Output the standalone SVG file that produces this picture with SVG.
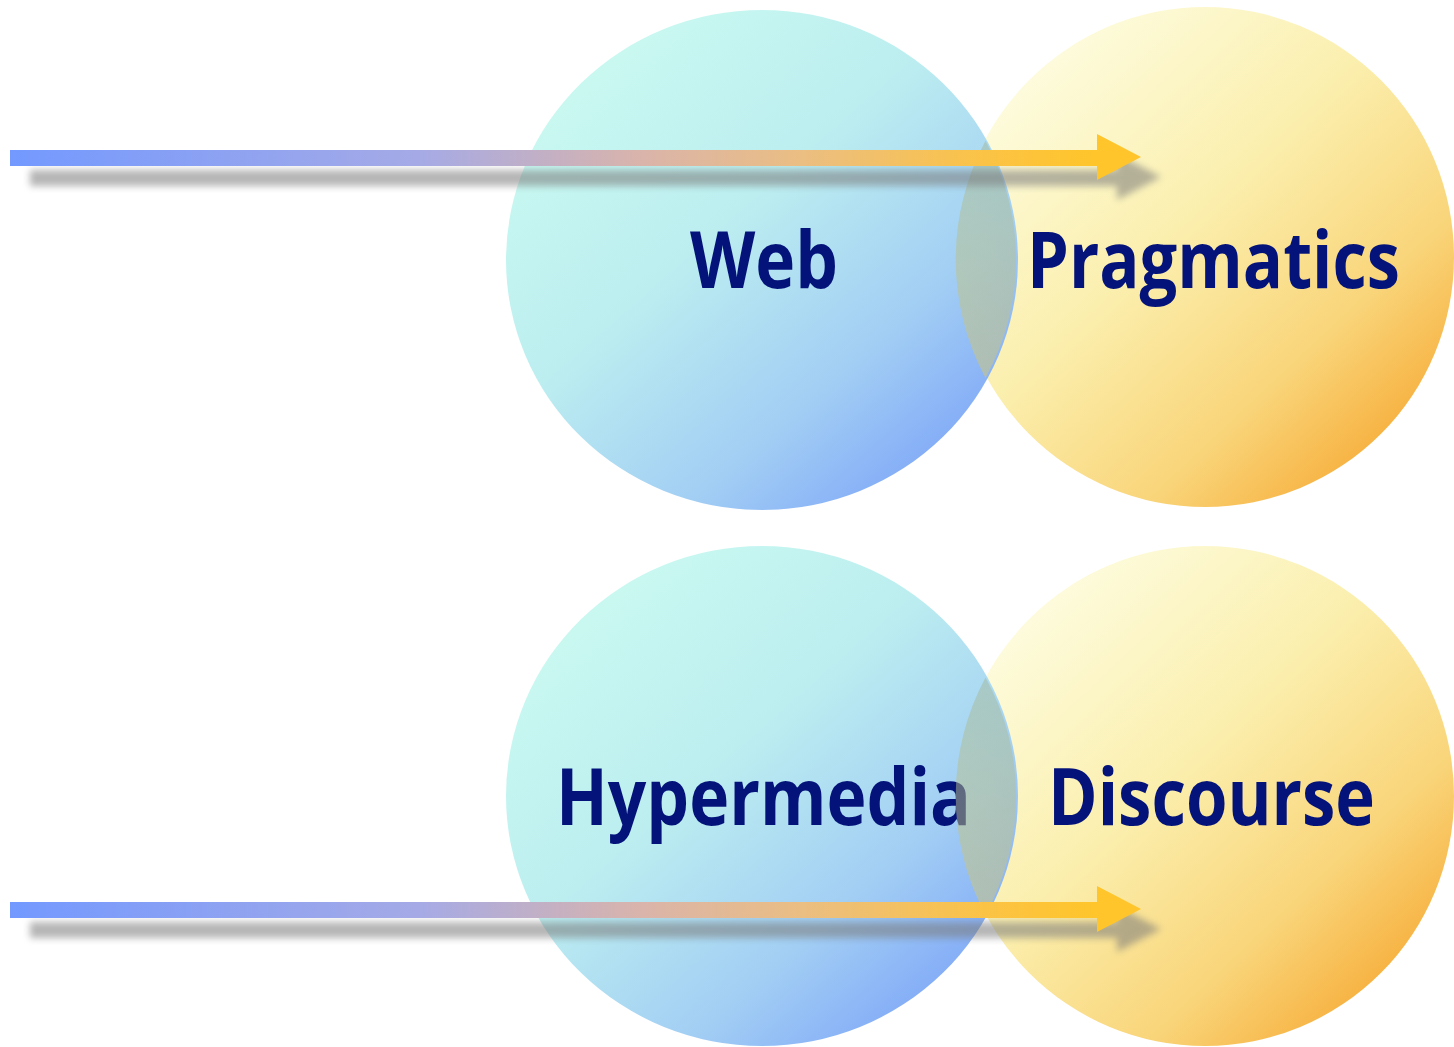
<svg xmlns="http://www.w3.org/2000/svg" width="1454" height="1047" viewBox="0 0 1454 1047">
  <defs>
    <linearGradient id="gBlue" x1="0.2" y1="0.12" x2="0.92" y2="0.92">
      <stop offset="0" stop-color="#c8f8f0"/>
      <stop offset="0.35" stop-color="#bceef0"/>
      <stop offset="0.7" stop-color="#a2cef4"/>
      <stop offset="1" stop-color="#7aa2f8"/>
    </linearGradient>
    <linearGradient id="gYellow" x1="0.15" y1="0.1" x2="0.92" y2="0.92">
      <stop offset="0" stop-color="#fdfcdf"/>
      <stop offset="0.4" stop-color="#fbefae"/>
      <stop offset="0.72" stop-color="#f9d57a"/>
      <stop offset="1" stop-color="#f6a62e"/>
    </linearGradient>
    <linearGradient id="gLens" x1="0" y1="0" x2="0" y2="1">
      <stop offset="0" stop-color="#a2b89c"/>
      <stop offset="1" stop-color="#d4c870"/>
    </linearGradient>
    <linearGradient id="gArrow" gradientUnits="userSpaceOnUse" x1="10" y1="0" x2="1142" y2="0">
      <stop offset="0" stop-color="#7399ff"/>
      <stop offset="0.36" stop-color="#a5aae6"/>
      <stop offset="0.56" stop-color="#dab4aa"/>
      <stop offset="0.7" stop-color="#ebbe82"/>
      <stop offset="0.86" stop-color="#fbc346"/>
      <stop offset="0.96" stop-color="#ffc52a"/>
    </linearGradient>
    <filter id="soft" x="-5%" y="-100%" width="110%" height="300%">
      <feGaussianBlur stdDeviation="3.5"/>
    </filter>
    <path id="arrowShape" d="M10 150 H1097 V134 L1141 157 L1097 180 V166 H10 Z"/>
  </defs>
  <style>
    .label { font-family: "Open Sans", "Noto Sans", "DejaVu Sans", sans-serif; font-weight: bold; font-size: 78px; fill: #04137a; }
    .lens { opacity: 0.5; fill: url(#gLens); }
    .shadow { fill: #7a7a7a; opacity: 0.55; }
  </style>

  <rect width="1454" height="1047" fill="#ffffff"/>

  <!-- yellow discs sit underneath the blue ones -->
  <g id="node-pragmatics">
    <ellipse cx="1205" cy="257" rx="249" ry="250" fill="url(#gYellow)"/>
    <text class="label" x="1027" y="288" textLength="373" lengthAdjust="spacingAndGlyphs">Pragmatics</text>
  </g>
  <g id="node-discourse">
    <ellipse cx="1205" cy="796" rx="249" ry="250" fill="url(#gYellow)"/>
    <text class="label" x="1048" y="825" textLength="327" lengthAdjust="spacingAndGlyphs">Discourse</text>
  </g>

  <g id="node-web">
    <ellipse cx="762" cy="260" rx="256" ry="250" fill="url(#gBlue)"/>
    <text class="label" x="690" y="288" textLength="148" lengthAdjust="spacingAndGlyphs">Web</text>
  </g>
  <g id="node-hypermedia">
    <ellipse cx="762" cy="796" rx="256" ry="250" fill="url(#gBlue)"/>
    <text class="label" x="556" y="825" textLength="415" lengthAdjust="spacingAndGlyphs">Hypermedia</text>
  </g>

  <!-- translucent tint where each pair of discs overlaps -->
  <g id="overlaps">
    <path class="lens" d="M985.5 140.7 A249 250 0 0 0 985.5 377.9 A256 250 0 0 0 985.5 140.7 Z"/>
    <path class="lens" d="M985.5 677.4 A249 250 0 0 0 985.5 914.6 A256 250 0 0 0 985.5 677.4 Z"/>
  </g>

  <g id="connectors">
    <!-- upper arrow with its drop shadow -->
    <use href="#arrowShape" class="shadow" filter="url(#soft)" transform="translate(20 20)"/>
    <use href="#arrowShape" fill="url(#gArrow)"/>
    <!-- lower arrow with its drop shadow -->
    <use href="#arrowShape" class="shadow" filter="url(#soft)" transform="translate(20 772)"/>
    <use href="#arrowShape" fill="url(#gArrow)" transform="translate(0 752)"/>
  </g>
</svg>
